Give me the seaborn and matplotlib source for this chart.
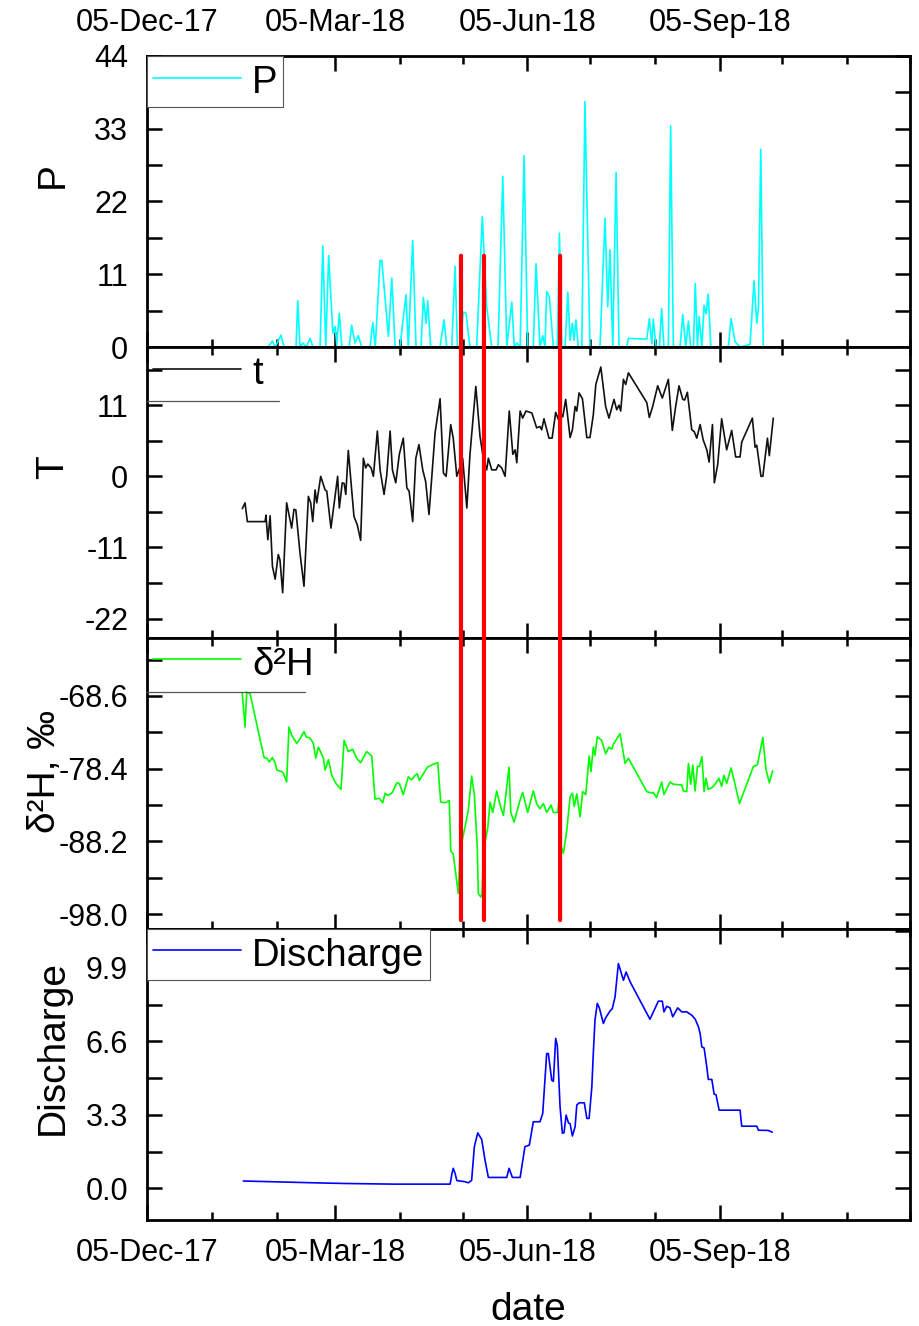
import numpy as np
import pandas as pd
import matplotlib
matplotlib.use('Agg')
import matplotlib.pyplot as plt
import matplotlib.dates as mdates
from matplotlib.ticker import MultipleLocator, FormatStrFormatter, FixedLocator
from matplotlib.patches import ConnectionPatch
from matplotlib.lines import Line2D
import seaborn as sns

# ---------------- data (x values are days since 2018-01-01) ----------------
p_day = [30.9, 33.0, 34.3, 37.1, 38.6, 44.3, 45.1, 46.2, 47.6, 49.1, 51.0, 52.4, 55.8, 57.1, 58.5,
         59.9, 61.9, 63.0, 63.8, 65.0, 66.2, 69.7, 70.9, 72.5, 74.1, 75.7, 79.7, 81.0, 82.2, 84.5,
         85.3, 88.5, 90.1, 91.7, 94.0, 96.9, 98.0, 100.1, 101.7, 104.1, 105.2, 106.5, 107.3, 108.7,
         113.2, 115.1, 116.4, 118.8, 120.4, 121.5, 122.8, 124.3, 125.6, 127.5, 130.7, 133.4, 135.5,
         137.9, 140.9, 143.2, 145.1, 147.5, 148.7, 149.9, 151.5, 153.4, 155.1, 157.8, 159.1, 161.0,
         162.3, 163.4, 164.2, 165.5, 167.4, 169.3, 170.3, 171.4, 173.0, 174.3, 175.4, 176.5, 177.3,
         178.2, 179.3, 181.0, 182.5, 184.9, 189.7, 192.1, 193.4, 194.5, 195.8, 197.4, 198.8, 202.5,
         203.3, 212.1, 213.3, 214.5, 215.2, 216.5, 218.1, 219.2, 220.3, 222.4, 223.5, 224.8, 228.0,
         229.3, 230.7, 232.0, 233.1, 234.4, 235.3, 236.3, 237.1, 238.4, 239.5, 240.4, 241.5, 242.7,
         251.1, 252.4, 254.3, 256.7, 261.5, 263.4, 264.7, 265.5, 266.6, 267.8, 271.9]
p_val = [0, 0.9, 0, 1.8, 0, 0, 7.0, 0, 0.6, 0, 1.3, 0, 0, 15.3, 0,
         13.8, 2.1, 3.1, 0.3, 5.1, 0, 0, 3.3, 0.6, 1.7, 0, 0, 3.7, 0, 13.1,
         13.1, 1.6, 10.4, 0, 0, 7.9, 0, 16.1, 0, 0, 7.5, 3.6, 7.0, 0,
         0, 4.1, 0, 0, 12.2, 0, 0, 5.3, 5.1, 0, 0, 19.7, 6.1,
         0, 0, 25.8, 0, 6.8, 0, 0.6, 0, 28.9, 0, 0, 12.6, 0,
         1.7, 0, 8.4, 7.6, 0, 0, 17.2, 0, 0, 8.3, 1.0, 3.6, 1.0,
         4.1, 0, 0, 37.1, 0, 0, 19.5, 6.1, 14.7, 0, 26.4, 0, 0,
         1.3, 1.2, 4.3, 0.5, 4.2, 0, 0, 5.8, 0, 0, 33.4, 0, 0,
         4.9, 0, 3.9, 0, 0, 9.6, 0, 4.6, 0, 6.3, 5.0, 8.0, 0,
         0, 4.3, 0.8, 0, 0.4, 10.0, 3.6, 6.0, 29.9, 0, 0]

t_day = [18.6, 19.9, 21.0, 29.5, 29.9, 30.8, 31.9, 33.0, 34.3, 35.8, 36.6, 37.9, 39.8, 42.2, 43.3,
         44.2, 46.2, 48.1, 50.2, 51.3, 52.3, 53.4, 54.2, 56.1, 58.2, 59.0, 61.0, 64.2, 65.0, 66.4,
         67.3, 68.1, 69.3, 70.1, 72.0, 73.6, 75.2, 76.5, 77.6, 78.6, 80.2, 81.3, 83.2, 84.5, 86.4,
         87.7, 89.3, 90.4, 92.0, 93.7, 95.6, 97.3, 98.4, 100.1, 101.6, 103.1, 104.9, 106.3, 107.9,
         110.8, 113.2, 114.8, 116.1, 118.3, 119.5, 121.2, 122.8, 124.0, 126.0, 127.5, 130.3, 132.3,
         133.9, 135.5, 136.3, 137.9, 140.0, 141.1, 142.7, 144.3, 146.3, 148.0, 149.1, 149.9, 151.5,
         152.7, 154.3, 157.1, 159.4, 161.0, 161.8, 162.9, 165.3, 166.8, 168.5, 169.8, 170.9, 171.9,
         173.3, 175.4, 176.5, 177.8, 178.6, 179.7, 181.3, 183.4, 184.9, 186.5, 187.7, 190.1, 192.4,
         194.0, 196.4, 197.7, 198.8, 199.6, 200.9, 202.0, 203.3, 212.1, 213.3, 214.9, 217.3, 219.5,
         222.4, 224.3, 225.9, 227.5, 229.3, 230.2, 231.5, 233.6, 234.8, 236.0, 237.6, 239.1, 240.8,
         241.9, 243.5, 244.4, 246.0, 247.9, 250.3, 252.7, 254.6, 256.7, 257.5, 262.6, 263.9, 264.7,
         266.7, 267.6, 269.8, 270.7, 272.6]
t_val = [-5.0, -4.1, -7.0, -7.0, -6.0, -9.8, -6.1, -13.9, -15.9, -12.1, -12.9, -18.0, -4.1, -8.0, -5.1,
         -5.2, -11.9, -17.0, -3.1, -4.1, -7.0, -2.1, -4.1, 0.0, -2.1, -2.3, -8.0, 0.0, -4.9, -1.0,
         -1.1, -2.8, 4.0, 1.0, -6.2, -7.5, -9.9, 2.8, 1.3, 1.9, 1.3, 0.0, 7.0, 1.0, -2.8,
         0.2, 7.0, 1.0, -1.0, 3.4, 5.9, -1.8, -2.3, -7.0, 2.8, 4.9, 1.0, -0.8, -5.9,
         6.7, 12.0, 0.5, 0.0, 8.0, 5.9, 0.0, 1.5, 2.8, -4.9, 3.4, 13.9, 6.2,
         2.8, 1.0, 2.8, 1.0, 1.0, 1.8, 1.3, 0.0, 10.1, 3.4, 4.1, 2.1, 10.1,
         9.0, 10.1, 9.8, 7.5, 7.7, 7.2, 8.9, 5.9, 5.9, 9.9, 8.8, 9.8, 9.2,
         11.9, 6.0, 7.2, 10.8, 10.1, 12.9, 12.0, 6.0, 6.0, 9.5, 14.2, 16.9, 10.8,
         9.0, 11.9, 10.3, 11.0, 10.1, 15.0, 14.2, 16.0, 11.4, 9.1, 10.8, 14.0, 12.1,
         15.0, 7.1, 10.8, 14.0, 11.9, 11.8, 13.0, 7.2, 6.9, 5.9, 8.0, 5.6, 4.1,
         2.2, 8.0, -1.0, 1.8, 8.9, 4.1, 7.1, 3.0, 3.0, 5.3, 9.0, 4.5, 4.8,
         0.0, 0.0, 5.9, 3.2, 9.0]

d2h_day = [18.6, 19.9, 20.7, 22.3, 29.0, 30.3, 31.5, 33.0, 34.3, 35.1, 37.5, 38.2, 39.8, 40.9, 42.2,
           44.6, 46.2, 48.1, 49.1, 51.0, 52.6, 53.7, 55.0, 57.4, 58.2, 59.8, 61.4, 63.4, 65.8, 67.3,
           69.3, 71.4, 73.3, 75.2, 78.1, 80.5, 82.1, 84.1, 85.8, 86.9, 88.0, 89.6, 90.4, 92.5, 93.7,
           95.6, 98.0, 99.6, 101.2, 102.3, 103.3, 105.2, 107.1, 110.0, 112.1, 113.5, 115.6, 117.6,
           118.3, 119.5, 121.9, 122.8, 124.8, 126.7, 128.3, 129.6, 131.0, 131.5, 132.7, 133.3, 133.9,
           136.0, 137.1, 138.4, 140.3, 141.9, 143.5, 146.2, 147.0, 148.6, 151.5, 152.7, 155.1, 157.8,
           159.4, 161.0, 162.6, 164.2, 166.3, 167.4, 169.5, 170.1, 171.1, 172.2, 173.8, 175.4, 176.5,
           177.4, 178.6, 180.2, 181.4, 182.9, 184.5, 185.4, 186.5, 187.3, 188.4, 190.5, 192.4, 194.0,
           195.3, 196.1, 199.3, 201.7, 203.3, 212.1, 214.5, 215.2, 216.8, 219.2, 220.3, 223.2, 224.8,
           228.8, 229.6, 231.2, 232.0, 233.1, 234.1, 235.2, 236.3, 237.2, 238.5, 239.5, 240.4, 241.5,
           243.6, 245.2, 246.6, 247.9, 249.0, 250.3, 252.4, 254.3, 256.4, 263.1, 265.0, 267.6, 269.1,
           270.7, 272.3]
d2h_val = [-68.3, -72.8, -68.1, -68.3, -76.9, -77.0, -77.5, -76.9, -77.6, -78.6, -78.8, -79.0, -80.2, -72.8, -73.9,
           -75.0, -74.4, -73.4, -74.1, -74.3, -75.0, -77.0, -75.5, -77.0, -78.6, -77.2, -79.3, -80.4, -81.2, -74.6,
           -76.1, -75.8, -77.0, -77.6, -76.1, -76.7, -82.5, -82.4, -83.0, -81.7, -82.0, -81.8, -81.6, -80.3, -80.4,
           -81.9, -79.5, -79.9, -79.3, -79.1, -80.0, -79.1, -78.2, -77.8, -77.6, -82.9, -83.0, -82.7,
           -89.5, -89.9, -95.2, -89.4, -86.7, -84.0, -79.4, -81.9, -89.1, -95.2, -95.7, -95.2, -89.5,
           -86.4, -82.9, -84.3, -81.4, -83.3, -84.7, -78.2, -84.3, -85.6, -82.6, -81.6, -84.3, -81.4,
           -83.1, -83.8, -83.1, -84.3, -83.3, -84.3, -84.3, -82.4, -88.9, -89.8, -86.7, -82.2, -81.7,
           -83.5, -81.8, -84.9, -81.5, -81.9, -76.7, -78.8, -75.5, -76.6, -74.1, -74.6, -76.4, -75.5,
           -75.8, -75.1, -73.7, -77.7, -77.0, -81.5, -81.7, -81.6, -82.3, -80.2, -81.9, -80.2, -80.5,
           -80.6, -81.4, -81.5, -77.7, -80.5, -77.9, -81.4, -78.1, -78.1, -76.8, -81.5, -79.7, -81.2,
           -80.9, -80.3, -79.7, -80.8, -79.3, -80.4, -78.3, -80.5, -83.1, -78.1, -77.9, -74.2, -78.5,
           -80.3, -78.7]

q_day = [19.1, 52.6, 66.9, 90.8, 118.0, 118.9, 119.5, 120.4, 121.2, 125.1, 126.7, 128.3, 129.6, 131.2,
         133.1, 134.7, 136.3, 145.1, 146.2, 147.8, 151.5, 153.8, 155.9, 157.8, 161.0, 162.3, 164.2,
         165.0, 166.6, 167.4, 168.5, 169.3, 170.6, 171.7, 172.5, 173.5, 174.6, 175.4, 176.5, 177.8,
         178.6, 179.8, 182.2, 183.4, 184.5, 185.8, 186.5, 187.3, 188.4, 189.4, 191.3, 192.4, 194.5,
         195.6, 196.9, 198.5, 200.9, 202.2, 204.1, 213.6, 217.6, 219.5, 220.3, 221.6, 223.2, 224.5,
         226.9, 228.8, 231.2, 233.6, 235.2, 236.8, 237.6, 238.4, 239.5, 240.8, 241.5, 243.2, 244.3,
         245.2, 246.7, 256.7, 257.5, 264.7, 265.5, 270.2, 272.1]
q_val = [0.33, 0.25, 0.22, 0.19, 0.19, 0.67, 0.90, 0.67, 0.35, 0.30, 0.25, 0.36, 1.87, 2.49,
         2.20, 1.27, 0.49, 0.49, 0.90, 0.49, 0.49, 1.87, 1.94, 2.99, 2.99, 3.36, 6.05,
         6.05, 4.86, 4.80, 6.73, 6.40, 3.66, 2.47, 2.50, 3.29, 2.94, 2.90, 2.35, 2.77,
         3.74, 3.84, 3.84, 3.14, 3.14, 4.56, 6.05, 7.55, 8.30, 8.10, 7.40, 7.65, 7.96,
         8.07, 8.59, 10.09, 9.34, 9.71, 9.27, 7.59, 8.40, 8.40, 7.92, 8.17, 8.10, 7.70,
         8.10, 7.92, 7.92, 7.77, 7.60, 7.25, 6.95, 6.35, 6.30, 5.45, 4.89, 4.89, 4.23,
         4.20, 3.51, 3.51, 2.79, 2.79, 2.61, 2.60, 2.52]

event_day = [123.2, 134.2, 170.6]   # red marker lines
event_top_p = 13.8
event_bottom_d2h = -98.8

x_major = ['2017-12-05', '2018-03-05', '2018-06-05', '2018-09-05']
x_limits = ['2017-12-05', '2018-12-05']

# ---------------- style ----------------
sns.set_theme(style='ticks')
plt.rcParams['font.family'] = ['Liberation Sans', 'DejaVu Sans']
plt.rcParams['axes.unicode_minus'] = False
plt.rcParams['text.color'] = 'black'
plt.rcParams['axes.labelcolor'] = 'black'

BASE = pd.Timestamp('2018-01-01')
def to_dates(days):
    return BASE + pd.to_timedelta(np.asarray(days, dtype=float), unit='D')

fig = plt.figure(figsize=(9.2, 13.26), dpi=100)
left, width, height = 0.15978, 0.82935, 0.21946
bottoms = [0.73831, 0.51885, 0.29940, 0.07994]
axes = [fig.add_axes([left, b, width, height]) for b in bottoms]

series = [
    (p_day, p_val, '#00FFFF', 'P', 'P', (0, 44), 11, 5.5, '%d', (-0.0996, 0.591)),
    (t_day, t_val, '#111111', 't', 'T', (-25, 20), 11, 5.5, '%d', (-0.0996, 0.588)),
    (d2h_day, d2h_val, '#00FF00', 'δ²H', 'δ²H, ‰', (-100, -60.8), 9.8, 4.9, '%.1f', (-0.110, 0.541)),
    (q_day, q_val, '#0000FF', 'Discharge', 'Discharge', (-1.42, 11.64), 3.3, 1.65, '%.1f', (-0.0996, 0.593)),
]

tick_fs = 22
label_fs = 28
leg_fs = 27.5

for i, (ax, (dd, vv, col, leg, ylab, ylim, maj, mnr, fmt, lc)) in enumerate(zip(axes, series)):
    df = pd.DataFrame({'date': to_dates(dd), 'value': vv})
    sns.lineplot(data=df, x='date', y='value', ax=ax, color=col, lw=1.2,
                 estimator=None, sort=False, label=leg)
    ax.set_xlim(pd.Timestamp(x_limits[0]), pd.Timestamp(x_limits[1]))
    ax.set_ylim(*ylim)
    ax.xaxis.set_major_locator(FixedLocator(mdates.date2num(pd.to_datetime(x_major))))
    ax.xaxis.set_minor_locator(mdates.MonthLocator(bymonthday=5))
    ax.xaxis.set_major_formatter(mdates.DateFormatter('%d-%b-%y'))
    ax.yaxis.set_major_locator(MultipleLocator(maj))
    ax.yaxis.set_minor_locator(MultipleLocator(mnr))
    ax.yaxis.set_major_formatter(FormatStrFormatter(fmt))
    for s in ax.spines.values():
        s.set_linewidth(2.0)
        s.set_color('black')
    ax.tick_params(axis='both', which='both', direction='in', top=True, right=True,
                   width=1.8, colors='black', labelsize=tick_fs)
    ax.tick_params(axis='x', which='major', length=11, pad=13)
    ax.tick_params(axis='x', which='minor', length=5.5)
    ax.tick_params(axis='y', which='both', length=11, pad=13.5)
    ax.tick_params(axis='x', labeltop=(i == 0), labelbottom=(i == 3))
    ax.set_xlabel('')
    ax.set_ylabel(ylab, fontsize=label_fs, color='black')
    ax.yaxis.set_label_coords(*lc)

    framed = i in (0, 3)
    lg = ax.legend(loc='upper left', bbox_to_anchor=(0, 1), borderaxespad=0,
                   fontsize=leg_fs, handlelength=2.3, handletextpad=0.3, borderpad=0.15,
                   handleheight=1.12, frameon=framed, fancybox=False, edgecolor='#555555',
                   framealpha=1, labelcolor='black')
    if framed:
        lg.get_frame().set_linewidth(0.8)
    else:
        xend = 0.173 if i == 1 else 0.207
        ax.add_line(Line2D([0, xend], [0.814, 0.814], transform=ax.transAxes,
                           color='#555555', lw=0.9, zorder=5))

axes[3].set_xlabel('date', fontsize=label_fs, labelpad=17, color='black')

# red marker lines spanning panels 1-3
for d in event_day:
    xd = mdates.date2num(BASE + pd.Timedelta(days=d))
    con = ConnectionPatch(xyA=(xd, event_top_p), coordsA=axes[0].transData,
                          xyB=(xd, event_bottom_d2h), coordsB=axes[2].transData,
                          color='#FF0000', lw=3.0, zorder=10)
    fig.add_artist(con)

fig.savefig('out.png', dpi=100)
